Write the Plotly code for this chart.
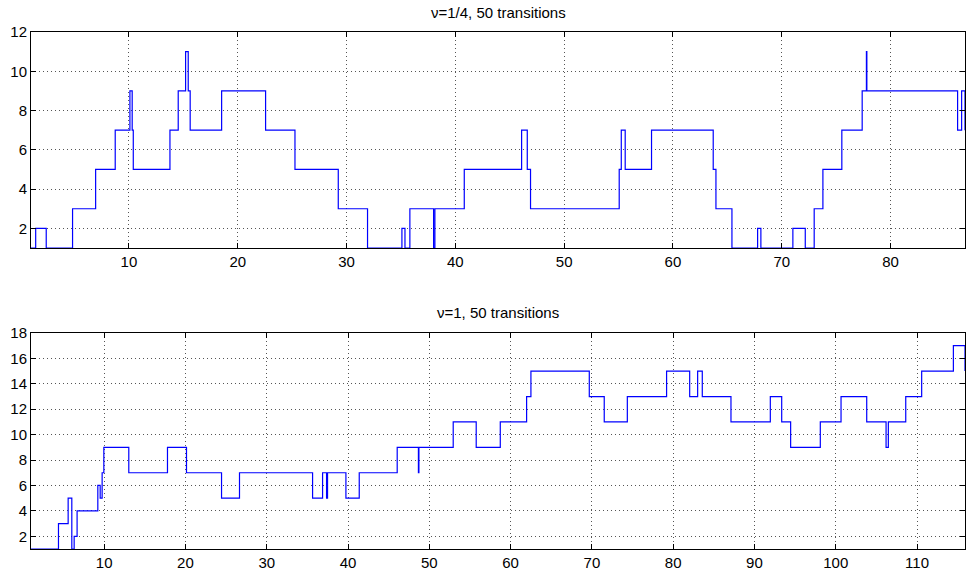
import plotly.graph_objects as go
from plotly.subplots import make_subplots

# Top panel: nu = 1/4 -- transition times and new state values
top_times = [1.0, 1.43, 2.40, 4.82, 6.94, 8.74, 10.09, 10.30, 10.40, 13.77, 14.53, 15.21,
             15.45, 15.63, 18.52, 22.56, 25.26, 29.24, 31.93, 35.09, 35.37, 35.82, 38.00,
             38.12, 40.82, 46.09, 46.61, 46.91, 55.06, 55.25, 55.61, 58.03, 63.70, 63.95,
             65.42, 67.78, 68.08, 71.02, 72.16, 72.98, 73.78, 75.52, 77.39, 77.78, 77.82,
             86.16, 86.53, 86.84]
top_values = [1, 2, 1, 3, 5, 7, 9, 7, 5, 7, 9, 11,
              9, 7, 9, 7, 5, 3, 1, 2, 1, 3, 1,
              3, 5, 7, 5, 3, 5, 7, 5, 7, 5, 3,
              1, 2, 1, 2, 1, 3, 5, 7, 9, 11, 9,
              7, 9, 7]

# Bottom panel: nu = 1
bot_times = [1.0, 4.38, 5.57, 6.02, 6.31, 6.67, 9.22, 9.51, 9.75, 9.96, 13.03, 17.79,
             20.13, 24.44, 26.65, 35.64, 36.87, 37.36, 37.48, 39.74, 41.38, 46.05, 48.66,
             48.72, 52.94, 55.77, 58.73, 61.97, 62.50, 69.68, 71.52, 74.36, 79.19, 82.03,
             83.01, 83.58, 87.11, 91.95, 93.35, 94.45, 98.10, 100.65, 103.81, 106.19,
             106.47, 108.61, 110.57, 114.47, 115.90]
bot_values = [1, 3, 5, 1, 2, 4, 6, 5, 7, 9, 7, 9,
              7, 5, 7, 5, 7, 5, 7, 5, 7, 9, 7,
              9, 11, 9, 11, 13, 15, 13, 11, 13, 15, 13,
              15, 13, 11, 13, 11, 9, 11, 13, 11, 9,
              11, 13, 15, 17, 15]

top_xticks = [10, 20, 30, 40, 50, 60, 70, 80]
top_yticks = [2, 4, 6, 8, 10, 12]
bot_xticks = [10, 20, 30, 40, 50, 60, 70, 80, 90, 100, 110]
bot_yticks = [2, 4, 6, 8, 10, 12, 14, 16, 18]

titles = ["ν=1/4, 50 transitions", "ν=1, 50 transitions"]

fig = make_subplots(rows=2, cols=1, vertical_spacing=0.1644)

line = dict(color="#0000ff", width=1.2, shape="hv")
fig.add_trace(go.Scatter(x=top_times, y=top_values, mode="lines", line=line,
                         showlegend=False, hoverinfo="skip"), row=1, col=1)
fig.add_trace(go.Scatter(x=bot_times, y=bot_values, mode="lines", line=line,
                         showlegend=False, hoverinfo="skip"), row=2, col=1)

axis_common = dict(
    showline=True, linecolor="black", linewidth=1, mirror="ticks",
    ticks="inside", ticklen=5, tickcolor="black", tickwidth=1,
    showgrid=True, gridcolor="#555555", griddash="1px,3px", gridwidth=1,
    zeroline=False, tickfont=dict(family="Liberation Sans, Arial", size=15, color="black"),
)

fig.update_xaxes(axis_common)
fig.update_yaxes(axis_common)

fig.update_xaxes(range=[1, top_times[-1]], tickvals=top_xticks, row=1, col=1)
fig.update_yaxes(range=[1, 12], tickvals=top_yticks, row=1, col=1)
fig.update_xaxes(range=[1, bot_times[-1]], tickvals=bot_xticks, row=2, col=1)
fig.update_yaxes(range=[1, 18], tickvals=bot_yticks, row=2, col=1)

fig.update_layout(
    xaxis=dict(domain=[0, 1]), yaxis=dict(domain=[301 / 517, 1]),
    xaxis2=dict(domain=[0, 1]), yaxis2=dict(domain=[0, 216 / 517]),
)

fig.add_annotation(text=titles[0], xref="paper", yref="paper", x=0.5, y=1.0,
                   yanchor="middle", yshift=20, showarrow=False,
                   font=dict(family="Liberation Sans, Arial", size=15, color="black"))
fig.add_annotation(text=titles[1], xref="paper", yref="paper", x=0.5, y=216 / 517,
                   yanchor="middle", yshift=21, showarrow=False,
                   font=dict(family="Liberation Sans, Arial", size=15, color="black"))

fig.update_layout(
    width=966, height=574,
    margin=dict(l=31, r=1, t=32, b=25),
    paper_bgcolor="white", plot_bgcolor="white",
    font=dict(family="Liberation Sans, Arial", size=15, color="black"),
)

fig.write_html("out.html", config={"displayModeBar": False},
               post_script="document.body.style.margin='0';document.body.style.overflow='hidden';")
